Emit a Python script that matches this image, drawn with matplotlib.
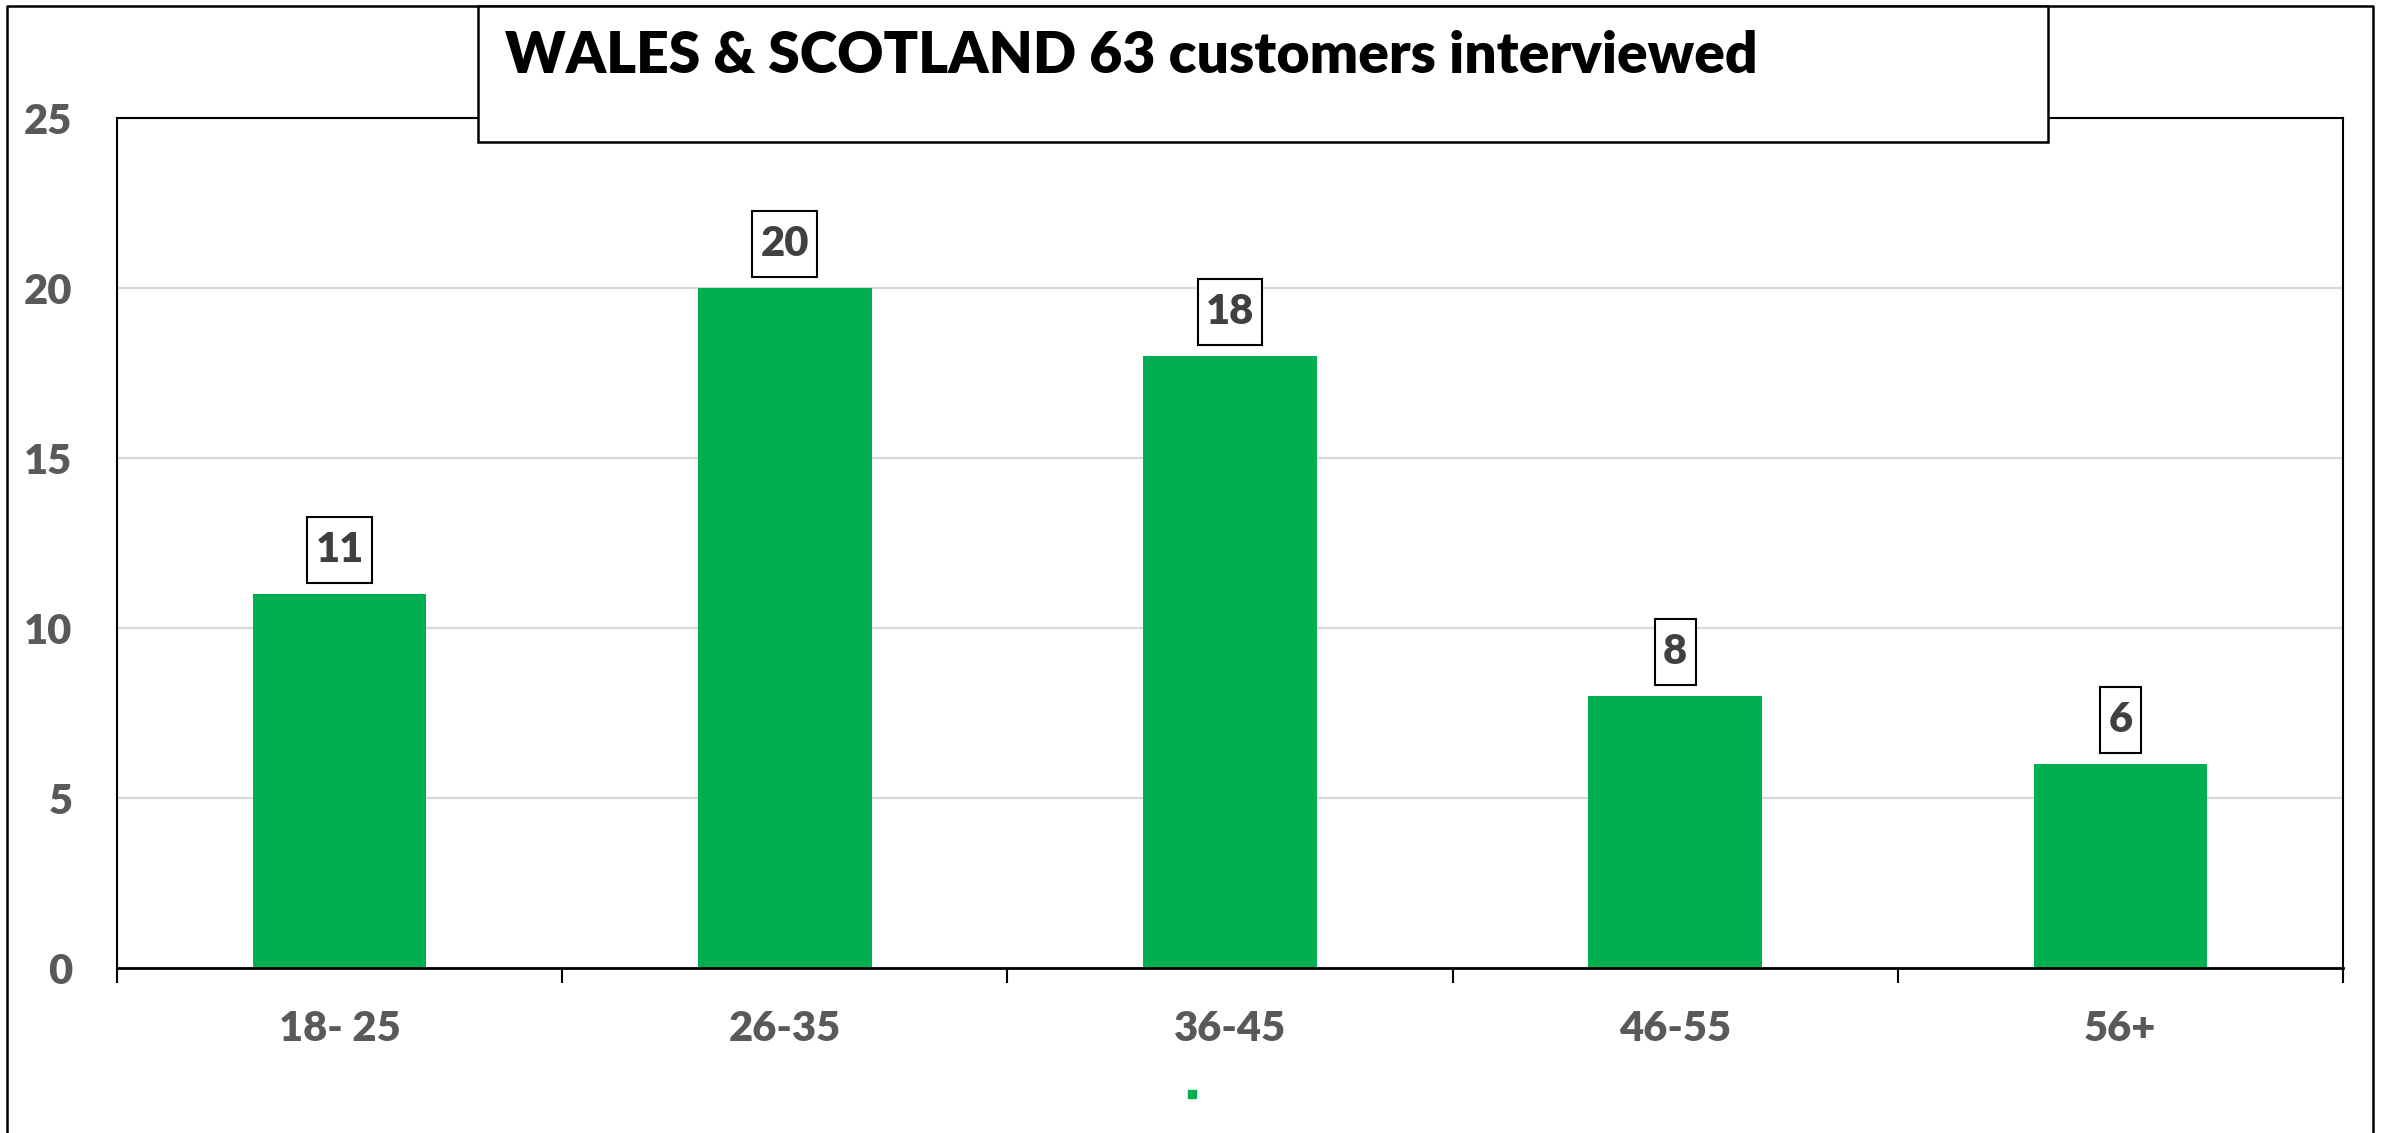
import matplotlib
matplotlib.use("Agg")
import matplotlib.pyplot as plt
from matplotlib.lines import Line2D
from matplotlib.patches import Rectangle
from matplotlib.path import Path
import numpy as np

# ── Dati ──────────────────────────────────────────────────────────────────────
AGE_GROUPS = ["18- 25", "26-35", "36-45", "46-55", "56+"]
CUSTOMERS  = [11, 20, 18, 8, 6]
Y_TICKS    = [0, 5, 10, 15, 20, 25]
TITLE      = "WALES & SCOTLAND 63 customers interviewed"

# ── Colori ────────────────────────────────────────────────────────────────────
C_BAR   = "#00B050"
C_TICK  = "#595959"
C_LABEL = "#404040"
C_GRID  = "#D9D9D9"

W, H, DPI = 2387, 1133, 100
FONT = ["Lato", "DejaVu Sans"]
WEIGHT = "heavy"


def px(x, y):
    """pixel (dall'alto a sinistra) -> coordinate figura"""
    return x / W, 1 - y / H


def label_box(x0, y0, width, height, mutation_size):
    """riquadro con margine verticale più ampio di quello orizzontale"""
    padx, pady = 0.2 * mutation_size, 0.34 * mutation_size
    xa, xb = x0 - padx, x0 + width + padx
    ya, yb = y0 - pady, y0 + height + pady
    return Path([(xa, ya), (xb, ya), (xb, yb), (xa, yb), (xa, ya)], closed=True)


fig = plt.figure(figsize=(W / DPI, H / DPI), dpi=DPI, facecolor="white")
ax = fig.add_axes([117 / W, 1 - 968 / H, (2343 - 117) / W, (968 - 118) / H])

x = np.arange(len(AGE_GROUPS))
ax.bar(x, CUSTOMERS, width=0.39, color=C_BAR, zorder=2)

ax.set_xlim(-0.5, len(AGE_GROUPS) - 0.5)
ax.set_ylim(0, 25)
ax.set_yticks(Y_TICKS)
ax.set_yticklabels([str(t) for t in Y_TICKS], fontsize=30, fontweight=WEIGHT,
                   color=C_TICK, family=FONT)
ax.tick_params(axis="y", length=0, pad=32)
ax.yaxis.grid(True, color=C_GRID, lw=1.6, zorder=0)
ax.set_axisbelow(True)

# tacche ai bordi delle categorie, etichette al centro
ax.set_xticks(np.arange(-0.5, len(AGE_GROUPS)), labels=[""] * (len(AGE_GROUPS) + 1))
ax.tick_params(axis="x", which="major", length=11, width=1.5, color="black")
ax.set_xticks(x, labels=AGE_GROUPS, minor=True)
ax.tick_params(axis="x", which="minor", length=0, pad=30)
for lbl in ax.get_xticklabels(minor=True):
    lbl.set_fontsize(30)
    lbl.set_fontweight(WEIGHT)
    lbl.set_color(C_TICK)
    lbl.set_family(FONT)

for side in ["left", "top", "right"]:
    ax.spines[side].set_color("black")
    ax.spines[side].set_linewidth(1.5)
ax.spines["bottom"].set_linewidth(2)

# etichette valori in riquadro
for xi, v in zip(x, CUSTOMERS):
    ax.annotate(str(v), (xi, v), xytext=(0, 25), textcoords="offset pixels",
                ha="center", va="bottom", fontsize=30, fontweight=WEIGHT,
                color=C_LABEL, family=FONT,
                bbox=dict(boxstyle=label_box, fc="white", ec="black", lw=1.5))

# cornice esterna (sinistra, alto, destra)
frame = dict(color="black", lw=1.8, transform=fig.transFigure)
fig.add_artist(Line2D(*zip(px(7, 1133), px(7, 6), px(2373, 6), px(2373, 1133)), **frame))

# riquadro del titolo
x0, y0 = px(478, 142)
x1, y1 = px(2048, 6)
fig.add_artist(Rectangle((x0, y0), x1 - x0, y1 - y0, transform=fig.transFigure,
                         fc="white", ec="black", lw=1.8, zorder=5))
fig.text(*px(505, 56), TITLE, fontsize=41, fontweight=WEIGHT, color="black",
         family=FONT, va="center", ha="left", zorder=6)

# marcatore legenda
fig.add_artist(Line2D([1192 / W], [1 - 1094 / H], marker="s", markersize=5.5,
                      color=C_BAR, lw=0, transform=fig.transFigure))

fig.savefig("out.png", dpi=DPI, facecolor="white")
